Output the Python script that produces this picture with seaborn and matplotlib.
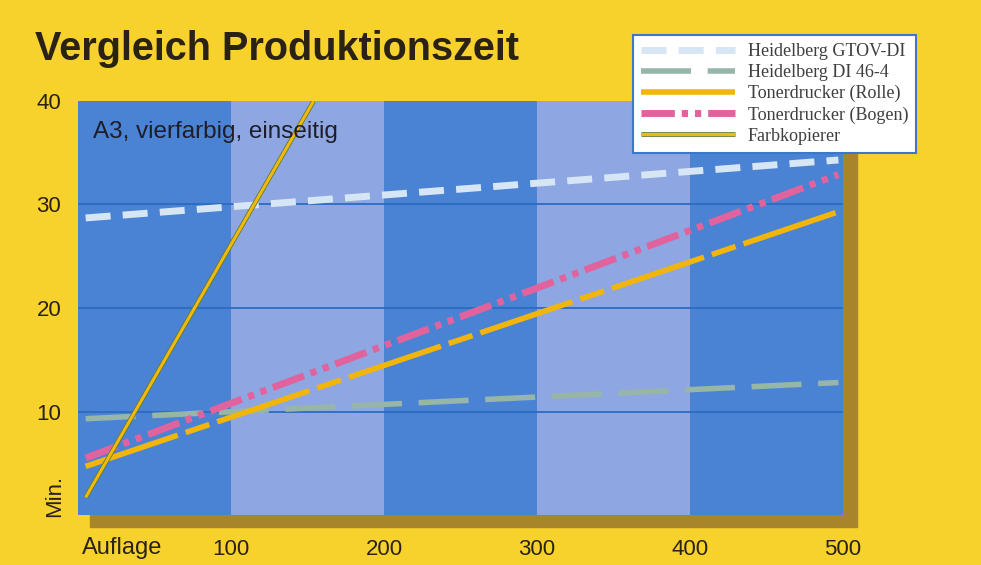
import pandas as pd
import matplotlib.pyplot as plt
import matplotlib.patheffects as pe
from matplotlib.patches import Rectangle
import seaborn as sns

# values (Auflage -> minutes)
series = ['Heidelberg GTOV-DI', 'Heidelberg DI 46-4', 'Tonerdrucker (Rolle)',
          'Tonerdrucker (Bogen)', 'Farbkopierer']
x_start = [5, 5, 5, 5, 5]
x_end = [497, 497, 497, 497, 154]
y_start = [28.7, 9.3, 4.7, 5.5, 1.7]
y_end = [34.3, 12.8, 29.3, 32.9, 40]
x_ticks = [100, 200, 300, 400, 500]
y_ticks = [10, 20, 30, 40]

colors = {'Heidelberg GTOV-DI': '#d6e6f4', 'Heidelberg DI 46-4': '#97b6a8',
          'Tonerdrucker (Rolle)': '#f2b50c', 'Tonerdrucker (Bogen)': '#e0639e',
          'Farbkopierer': '#f2b90c'}
# dash patterns in multiples of the line width
dashes = {'Heidelberg GTOV-DI': (3.6, 1.75), 'Heidelberg DI 46-4': (9, 3),
          'Tonerdrucker (Rolle)': (17.5, 1.5, 4.5, 1.5),
          'Tonerdrucker (Bogen)': (4.8, 1, 0.9, 1, 0.9, 1), 'Farbkopierer': None}
widths = {'Heidelberg GTOV-DI': 5, 'Heidelberg DI 46-4': 4, 'Tonerdrucker (Rolle)': 4,
          'Tonerdrucker (Bogen)': 5, 'Farbkopierer': 2.2}

rows = []
for s, x0, x1, y0, y1 in zip(series, x_start, x_end, y_start, y_end):
    rows.append({'Serie': s, 'Auflage': x0, 'Min': y0})
    rows.append({'Serie': s, 'Auflage': x1, 'Min': y1})
df = pd.DataFrame(rows)

txt = '#2b2217'
fig = plt.figure(figsize=(9.81, 5.65), dpi=100)
fig.patch.set_facecolor('#f8d22c')

# shadow behind the plot area
shadow = Rectangle((90/981, 1-527/565), (857-90)/981, (527-110)/565,
                   transform=fig.transFigure, color='#a8852a', zorder=-5)
fig.patches.append(shadow)

ax = fig.add_axes([78/981, 1-515/565, (843-78)/981, (515-101)/565])
ax.set_zorder(1)
ax.set_xlim(0, 500)
ax.set_ylim(0, 40)
for i in range(5):
    ax.axvspan(i*100, (i+1)*100, color='#4a82d4' if i % 2 == 0 else '#8ea6e2', lw=0, zorder=0)
for y in [10, 20, 30]:
    ax.axhline(y, color='#2a6cc2', lw=1.3, zorder=1)

handles = []
for s in series:
    sub = df[df['Serie'] == s]
    sns.lineplot(data=sub, x='Auflage', y='Min', color=colors[s], linewidth=widths[s],
                 ax=ax, zorder=3, legend=False)
    ln = ax.lines[-1]
    ln.set_solid_capstyle('butt')
    ln.set_dash_capstyle('butt')
    if dashes[s]:
        ln.set_dashes(dashes[s])
    handles.append(ln)

# the copier line has a thin dark rim
handles[-1].set_path_effects([pe.Stroke(linewidth=3.4, foreground='#5f7a34'), pe.Normal()])

lg = fig.legend(handles, series, loc='upper left', bbox_to_anchor=(633/981, 1-35/565),
                frameon=True, fancybox=False, framealpha=1, edgecolor='#3a78c8',
                handlelength=5.2, handletextpad=0.7, labelspacing=0.22,
                borderpad=0.45, borderaxespad=0,
                prop={'family': 'Liberation Serif', 'size': 13})
lg.get_frame().set_linewidth(1.5)
lg.set_zorder(10)
for t in lg.get_texts():
    t.set_color('#3f3f3f')

for s in ax.spines.values():
    s.set_visible(False)
ax.set_xlabel('')
ax.set_ylabel('')
ax.set_xticks(x_ticks)
ax.set_xticklabels([str(v) for v in x_ticks])
ax.set_yticks(y_ticks)
ax.set_yticklabels([str(v) for v in y_ticks])
ax.tick_params(axis='both', length=0, labelsize=16, labelcolor=txt)
ax.tick_params(axis='x', pad=17)
ax.tick_params(axis='y', pad=12)
for t in ax.get_xticklabels() + ax.get_yticklabels():
    t.set_family('Liberation Sans')

ax.text(29, -0.08, 'Auflage', transform=ax.get_xaxis_transform(), ha='center', va='center',
        fontsize=17, color=txt, family='Liberation Sans')
fig.text(55/981, 1-496/565, 'Min.', rotation=90, ha='center', va='center',
         fontsize=16, color=txt, family='Liberation Sans')
ax.text(10, 37, 'A3, vierfarbig, einseitig', ha='left', va='center', fontsize=17.5,
        color='#1e1e2a', family='Liberation Sans', zorder=5)
fig.text(35/981, 1-49/565, 'Vergleich Produktionszeit', ha='left', va='center',
         fontsize=28.5, fontweight='bold', color=txt, family='Liberation Sans')

fig.savefig('out.png', dpi=100, facecolor=fig.get_facecolor())
